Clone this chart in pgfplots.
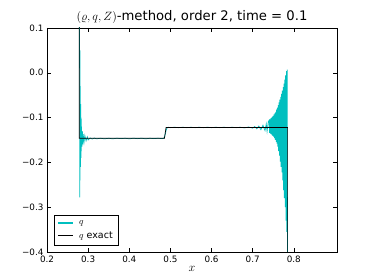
\documentclass[border=0pt]{standalone}
\usepackage{pgfplots}
\pgfplotsset{compat=1.18}
\usepackage{fontspec}
\setmainfont{DejaVu Sans}
\definecolor{mplc}{rgb}{0,0.75,0.75}
\begin{document}
\begin{tikzpicture}
\begin{axis}[
  scale only axis, width=290pt, height=224pt,
  xmin=0.2, xmax=0.905, ymin=-0.4, ymax=0.1,
  xtick={0.2,0.3,0.4,0.5,0.6,0.7,0.8},
  xticklabels={0.2,0.3,0.4,0.5,0.6,0.7,0.8},
  ytick={-0.4,-0.3,-0.2,-0.1,0.0,0.1},
  yticklabels={−0.4,−0.3,−0.2,−0.1,0.0,0.1},
  tick align=inside, major tick length=4pt,
  tick style={black, line width=0.5pt},
  ticklabel style={font=\fontsize{8.8}{10}\selectfont},
  axis line style={black, line width=0.6pt},
  title={$(\varrho,q,Z)$-method, order 2, time = 0.1},
  title style={font=\fontsize{13.2}{15}\selectfont, yshift=-5pt},
  xlabel={$x$}, xlabel style={font=\fontsize{12}{13}\selectfont, yshift=3pt},
  legend style={at={(0.024,0.03)}, anchor=south west, draw=black, line width=0.5pt,
    font=\fontsize{9.5}{11}\selectfont, inner sep=3pt, row sep=2pt},
  legend cell align=left,
  legend image code/.code={\draw[#1, line width=1.3pt] (0pt,0.3pt) -- (15pt,0.3pt); \path (19pt,0pt);},
]
\addplot[mplc, line width=0.7pt] coordinates {
(0.20,0.3) (0.278,0.3) (0.2790,0.3) (0.2795,-0.278) (0.2800,0.05) (0.2805,-0.24)
(0.2810,-0.03) (0.2815,-0.21) (0.2820,-0.07) (0.2825,-0.19) (0.2830,-0.10)
(0.2835,-0.175) (0.2840,-0.12) (0.2850,-0.165) (0.2860,-0.13) (0.2870,-0.16)
(0.2880,-0.137) (0.2900,-0.155) (0.2920,-0.14) (0.2950,-0.152) (0.2980,-0.143)
(0.3000,-0.150) (0.305,-0.1455) (0.31,-0.148) (0.315,-0.1455) (0.32,-0.1475)
(0.33,-0.146) (0.34,-0.1475) (0.35,-0.146) (0.36,-0.1475) (0.37,-0.146)
(0.38,-0.147) (0.39,-0.146) (0.40,-0.1475) (0.41,-0.146) (0.42,-0.147)
(0.43,-0.146) (0.44,-0.1475) (0.45,-0.146) (0.46,-0.147) (0.47,-0.146)
(0.48,-0.147) (0.484,-0.146) (0.486,-0.142) (0.488,-0.135) (0.490,-0.127)
(0.492,-0.123) (0.495,-0.1215) (0.50,-0.1225) (0.51,-0.1215) (0.52,-0.1225)
(0.53,-0.1215) (0.54,-0.1225) (0.55,-0.1215) (0.56,-0.1225) (0.57,-0.1215)
(0.58,-0.1225) (0.59,-0.1215) (0.60,-0.1225) (0.61,-0.1215) (0.62,-0.1225)
(0.63,-0.1215) (0.64,-0.1225) (0.65,-0.1215) (0.66,-0.1225) (0.67,-0.1215)
(0.68,-0.123) (0.69,-0.121) (0.70,-0.1235) (0.705,-0.120) (0.71,-0.125)
(0.715,-0.119) (0.72,-0.127) (0.725,-0.117) (0.73,-0.129) (0.733,-0.114)
(0.735,-0.131) (0.738,-0.109) (0.740,-0.106) (0.741,-0.134) (0.742,-0.104)
(0.743,-0.136) (0.744,-0.102) (0.745,-0.137) (0.746,-0.100) (0.747,-0.139)
(0.748,-0.098) (0.749,-0.141) (0.750,-0.096) (0.751,-0.143) (0.752,-0.093)
(0.753,-0.146) (0.754,-0.090) (0.755,-0.150) (0.756,-0.087) (0.757,-0.154)
(0.758,-0.082) (0.759,-0.158) (0.760,-0.078) (0.761,-0.165) (0.762,-0.072)
(0.763,-0.175) (0.764,-0.066) (0.765,-0.185) (0.766,-0.060) (0.767,-0.198)
(0.768,-0.054) (0.769,-0.210) (0.770,-0.047) (0.771,-0.222) (0.772,-0.040)
(0.773,-0.240) (0.774,-0.032) (0.775,-0.262) (0.776,-0.024) (0.777,-0.280)
(0.778,-0.015) (0.779,-0.300) (0.780,-0.006) (0.781,-0.330) (0.782,0.004)
(0.783,-0.355) (0.784,0.007) (0.7845,-0.34) (0.785,-0.6) (0.905,-0.6)
};
\addlegendentry{$q$}
\addplot[black, line width=0.7pt] coordinates {
(0.2,0.3) (0.2786,0.3) (0.2786,-0.146) (0.4855,-0.146) (0.4895,-0.122)
(0.785,-0.122) (0.785,-0.6) (0.905,-0.6)
};
\addlegendentry{$q$ exact}
\coordinate (ll) at (rel axis cs:0,0);
\coordinate (ur) at (rel axis cs:1,1);
\end{axis}
\path ([xshift=-47pt,yshift=-28pt]ll) rectangle ([xshift=37pt,yshift=28pt]ur);
\end{tikzpicture}
\end{document}
